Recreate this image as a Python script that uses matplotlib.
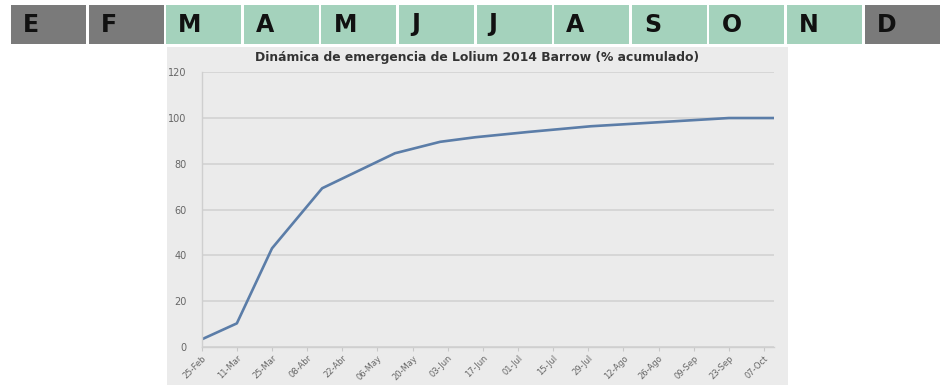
import matplotlib.pyplot as plt
from matplotlib.patches import Rectangle
import pandas as pd

# Meses (barra superior) y si están dentro del periodo de emergencia
meses = ['E', 'F', 'M', 'A', 'M', 'J', 'J', 'A', 'S', 'O', 'N', 'D']
activo = [False, False, True, True, True, True, True, True, True, True, True, False]

# Emergencia acumulada de Lolium (%)
fechas = ['2014-02-25', '2014-03-11', '2014-03-25', '2014-04-14', '2014-05-13',
          '2014-05-31', '2014-06-14', '2014-07-05', '2014-07-30', '2014-08-25',
          '2014-09-23', '2014-10-11']
acumulado = [3.2, 10.2, 43.0, 69.3, 84.6, 89.6, 91.6, 93.9, 96.4, 98.1, 100.0, 100.0]

etiquetas_x = ['25-Feb', '11-Mar', '25-Mar', '08-Abr', '22-Abr', '06-May', '20-May',
               '03-Jun', '17-Jun', '01-Jul', '15-Jul', '29-Jul', '12-Ago', '26-Ago',
               '09-Sep', '23-Sep', '07-Oct']

W, H = 952, 385
fig = plt.figure(figsize=(W / 100, H / 100), dpi=100)
fig.patch.set_facecolor('white')

# Barra de meses
x0, ancho, hueco = 11, 75.0, 2.6
y_top, y_bot = 5, 44
for i, (m, a) in enumerate(zip(meses, activo)):
    left = x0 + i * (ancho + hueco)
    color = '#a4d2bc' if a else '#7a7a7a'
    fig.patches.append(Rectangle((left / W, 1 - y_bot / H), ancho / W, (y_bot - y_top) / H,
                                 transform=fig.transFigure, facecolor=color, edgecolor='none',
                                 zorder=-10))
    fig.text((left + 12) / W, 1 - (y_top + y_bot) / 2 / H, m, ha='left', va='center',
             fontsize=17, fontweight='bold', color='#111111')

# Panel gris del gráfico
px0, px1, py0 = 167, 788, 47
fig.patches.append(Rectangle((px0 / W, 0), (px1 - px0) / W, 1 - py0 / H,
                             transform=fig.transFigure, facecolor='#ebebeb', edgecolor='none',
                             zorder=-10))

fig.text((px0 + px1) / 2 / W, 1 - 57 / H,
         'Dinámica de emergencia de Lolium 2014 Barrow (% acumulado)',
         ha='center', va='center', fontsize=8.9, fontweight='bold', color='#333333')

ax = fig.add_axes([201.7 / W, 1 - 346.7 / H, (774 - 201.7) / W, (346.7 - 72.3) / H])
ax.set_facecolor('none')

x = pd.to_datetime(fechas)
ax.plot(x, acumulado, color='#5b7da8', linewidth=1.9)

ticks = pd.date_range('2014-02-25', periods=len(etiquetas_x), freq='14D')
ax.set_xticks(ticks)
ax.set_xticklabels(etiquetas_x, rotation=45, ha='right', rotation_mode='anchor',
                   fontsize=6, color='#666666')
ax.set_xlim(pd.Timestamp('2014-02-25'), pd.Timestamp('2014-10-11'))
ax.set_ylim(0, 120)
ax.set_yticks(range(0, 121, 20))
ax.tick_params(axis='y', length=0, labelsize=7, labelcolor='#666666', pad=11)
ax.tick_params(axis='x', length=3, color='#c8c8c8', pad=2)
ax.grid(axis='y', color='#d2d2d2', linewidth=1.2)
ax.set_axisbelow(True)
for s in ['top', 'right']:
    ax.spines[s].set_visible(False)
for s in ['left', 'bottom']:
    ax.spines[s].set_color('#cfcfcf')
    ax.spines[s].set_linewidth(1.0)

fig.savefig('out.png', dpi=100)
